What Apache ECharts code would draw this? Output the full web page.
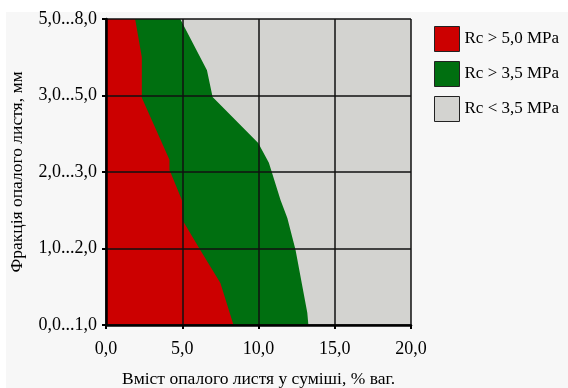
<!DOCTYPE html>
<html>
<head>
<meta charset="utf-8">
<script src="https://cdn.jsdelivr.net/npm/echarts@6/dist/echarts.min.js"></script>
<style>
  html, body { margin: 0; padding: 0; background: #ffffff; }
  #main { width: 568px; height: 388px; }
</style>
</head>
<body>
<div id="main"></div>
<script>
// y categories (fractions), bottom to top
var fractionLabels = ['0,0...1,0', '1,0...2,0', '2,0...3,0', '3,0...5,0', '5,0...8,0'];
var xTicks = [0, 5, 10, 15, 20];
var seriesNames = ['Rc > 5,0 MPa', 'Rc > 3,5 MPa', 'Rc < 3,5 MPa'];
// boundary of zone Rc > 5,0 : [content %, fraction position]
var redEdge = [[8.36, 0], [7.5, 0.55], [6.18, 0.98], [5.02, 1.37], [4.98, 1.63],
               [4.16, 2.03], [4.16, 2.16], [2.35, 2.97], [2.35, 3.5], [1.91, 4]];
// boundary of zone Rc > 3,5
var greenEdge = [[13.27, 0], [13.2, 0.16], [12.43, 0.98], [11.89, 1.4], [11.45, 1.63],
                 [10.68, 2.12], [9.98, 2.38], [6.99, 2.98], [6.62, 3.33], [4.87, 4]];
var colors = ['#cc0000', '#006f10', '#d3d3d0'];

var fnt = 'Liberation Serif';

function zone(edge) {
  return [[0, 0]].concat(edge).concat([[0, 4]]);
}
var grayZone = [[0, 0], [20, 0], [20, 4], [0, 4]];

function polySeries(name, pts, color) {
  return {
    name: name,
    type: 'custom',
    clip: true,
    itemStyle: { color: color, borderColor: '#222', borderWidth: 1 },
    encode: { x: 0, y: 1 },
    data: pts,
    renderItem: function (params, api) {
      if (params.dataIndex !== 0) return;
      var p = pts.map(function (d) { return api.coord(d); });
      return { type: 'polygon', shape: { points: p }, style: { fill: color } };
    }
  };
}

var chart = echarts.init(document.getElementById('main'));
chart.setOption({
  animation: false,
  backgroundColor: '#ffffff',
  graphic: [{
    type: 'rect', z: -10, silent: true,
    shape: { x: 6, y: 12, width: 562, height: 376 },
    style: { fill: '#f7f7f7' }
  }],
  grid: { left: 106, top: 19, right: 157, bottom: 63, outerBoundsMode: 'none' },
  legend: {
    orient: 'vertical',
    left: 429,
    top: 21,
    itemWidth: 25,
    itemHeight: 25,
    itemGap: 9,
    icon: 'rect',
    textStyle: { fontFamily: fnt, fontSize: 17, color: '#000' },
    data: seriesNames.map(function (n, i) {
      return { name: n, itemStyle: { color: colors[i], borderColor: '#222', borderWidth: 1 } };
    })
  },
  xAxis: {
    type: 'value',
    min: 0, max: 20, interval: 5,
    z: 10,
    name: 'Вміст опалого листя у суміші, % ваг.',
    nameLocation: 'middle',
    nameGap: 45,
    nameTextStyle: { fontFamily: fnt, fontSize: 17.5, color: '#000' },
    axisLine: { lineStyle: { color: '#000', width: 2.5 } },
    axisTick: { show: true, length: 4, lineStyle: { color: '#000', width: 2 } },
    axisLabel: {
      fontFamily: fnt, fontSize: 18, color: '#000', margin: 15,
      formatter: function (v) { return v.toFixed(1).replace('.', ','); }
    },
    splitLine: { show: true, lineStyle: { color: '#111', width: 1.5 } }
  },
  yAxis: {
    type: 'value',
    min: 0, max: 4, interval: 1,
    z: 10,
    name: 'Фракція опалого листя, мм',
    nameLocation: 'middle',
    nameGap: 80,
    nameTextStyle: { fontFamily: fnt, fontSize: 17.5, color: '#000' },
    axisLine: { show: true, lineStyle: { color: '#000', width: 2.5 } },
    axisTick: { show: true, length: 4, lineStyle: { color: '#000', width: 2 } },
    axisLabel: {
      fontFamily: fnt, fontSize: 18, color: '#000', margin: 9,
      formatter: function (v) { return fractionLabels[v]; }
    },
    splitLine: { show: true, lineStyle: { color: '#111', width: 1.5 } }
  },
  series: [
    polySeries(seriesNames[2], grayZone, colors[2]),
    polySeries(seriesNames[1], zone(greenEdge), colors[1]),
    polySeries(seriesNames[0], zone(redEdge), colors[0])
  ]
});
</script>
</body>
</html>
